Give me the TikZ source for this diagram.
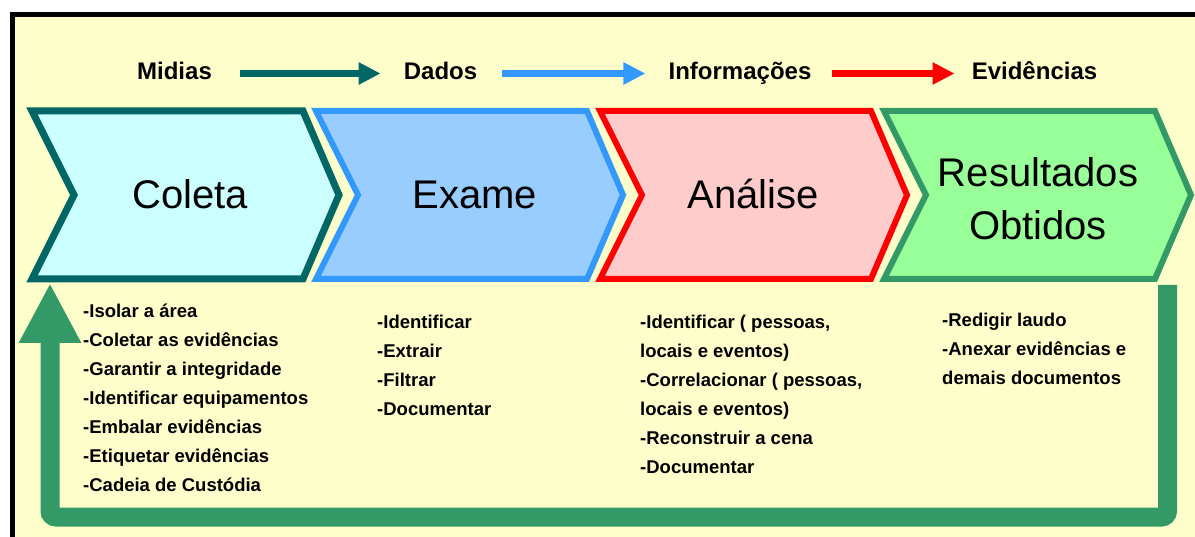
\documentclass[tikz,border=0pt]{standalone}
\usepackage{fontspec}
\setmainfont{Liberation Sans}
\usetikzlibrary{arrows.meta}
\definecolor{cream}{HTML}{FFFFCC}
\definecolor{tealc}{HTML}{006666}
\definecolor{colfill}{HTML}{CCFFFF}
\definecolor{exfill}{HTML}{99CCFF}
\definecolor{exline}{HTML}{3399FF}
\definecolor{anfill}{HTML}{FFCCCC}
\definecolor{anline}{HTML}{FF0000}
\definecolor{refill}{HTML}{99FF99}
\definecolor{reline}{HTML}{339966}
\newcommand\chevpath[1]{(#1,111) -- ++(271,0) -- ++(36,84) -- ++(-36,84) -- ++(-271,0) -- ++(42,-84) -- cycle}
\newcommand\mylist[1]{\parbox[t]{400pt}{\raggedright\fontsize{18.5}{29}\selectfont\bfseries #1}}
\begin{document}
\begin{tikzpicture}[x=1pt,y=-1pt,
  lbl/.style={font=\fontsize{24}{28}\selectfont\bfseries, inner sep=0pt, text height=17pt, text depth=4pt, anchor=base},
  ttl/.style={font=\fontsize{40}{53}\selectfont, inner sep=0pt, anchor=base},
  lst/.style={inner sep=0pt, anchor=base west},
  toparr/.style={line width=6.5pt, -{Triangle[width=21pt,length=22pt]}},
  chevbox/.style={line join=miter, miter limit=10}]
\useasboundingbox (0,0) rectangle (1195,537);
\clip (0,0) rectangle (1195,537);
\fill[white] (0,0) rectangle (1195,537);
\fill[cream] (12.5,15) rectangle (1200,545);
\draw[line width=5pt] (12.5,545) -- (12.5,15) -- (1200,15);

% top labels
\node[lbl] (midias) at (174.5,80) {Midias};
\node[lbl] (dados) at (440.5,80) {Dados};
\node[lbl] (info) at (740,80) {Informações};
\node[lbl] (evid) at (1034.5,80) {Evidências};
\draw[toparr, tealc, shorten <=28pt, shorten >=23pt] (midias.east) -- (dados.west);
\draw[toparr, exline, shorten <=25pt, shorten >=23pt] (dados.east) -- (info.west);
\draw[toparr, anline, shorten <=20pt, shorten >=17pt] (info.east) -- (evid.west);

% return arrow
\coordinate (gstart) at (1167.5,285);
\coordinate (gend) at (50,283);
\draw[reline, line width=19pt, rounded corners=6pt, -{Triangle[width=58pt,length=60pt]}]
  (gstart) -- (1167.5,517) -- (50,517) -- (gend);

% chevrons
\filldraw[chevbox, fill=colfill, draw=tealc, line width=7pt] \chevpath{32};
\filldraw[chevbox, fill=exfill, draw=exline, line width=6pt] \chevpath{316};
\filldraw[chevbox, fill=anfill, draw=anline, line width=6pt] \chevpath{600};
\filldraw[chevbox, fill=refill, draw=reline, line width=6pt] \chevpath{884};

\node[ttl] (coleta) at (190,209) {Coleta};
\node[ttl] (exame) at (475,209) {Exame};
\node[ttl] (analise) at (753,209) {Análise};
\node[ttl] (result) at (1038,187) {\parbox[t]{260pt}{\centering\fontsize{40}{53}\selectfont Resultados\\Obtidos}};

% lists
\node[lst] (lcoleta) at (83,318) {\mylist{-Isolar a área\\-Coletar as evidências\\-Garantir a integridade\\-Identificar equipamentos\\-Embalar evidências\\-Etiquetar evidências\\-Cadeia de Custódia}};
\node[lst] (lexame) at (377,329) {\mylist{-Identificar\\-Extrair\\-Filtrar\\-Documentar}};
\node[lst] (lanalise) at (640,329) {\mylist{-Identificar ( pessoas,\\locais e eventos)\\-Correlacionar ( pessoas,\\locais e eventos)\\-Reconstruir a cena\\-Documentar}};
\node[lst] (lresult) at (942,327) {\mylist{-Redigir laudo\\-Anexar evidências e\\demais documentos}};
\end{tikzpicture}
\end{document}
